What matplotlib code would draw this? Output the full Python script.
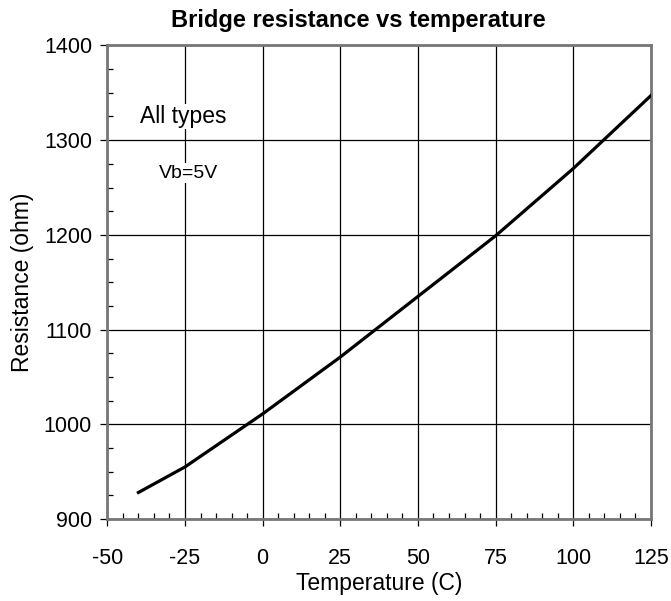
import matplotlib.pyplot as plt
from matplotlib.ticker import MultipleLocator

plt.rcParams['font.family'] = ['Liberation Sans', 'DejaVu Sans']
plt.rcParams['axes.unicode_minus'] = False

# curve
temperature = [-40, -25, 0, 25, 50, 75, 100, 125]
resistance = [928, 955, 1011, 1071, 1135, 1199, 1270, 1347]

x_ticks = [-50, -25, 0, 25, 50, 75, 100, 125]
y_ticks = [900, 1000, 1100, 1200, 1300, 1400]

fig = plt.figure(figsize=(6.71, 6.01), dpi=100)
ax = fig.add_axes([0.160, 0.1364, 0.810, 0.788])

ax.plot(temperature, resistance, color='black', linewidth=2.3, zorder=3)

ax.set_xlim(-50, 125)
ax.set_ylim(900, 1400)
ax.set_xticks(x_ticks)
ax.set_yticks(y_ticks)
ax.xaxis.set_minor_locator(MultipleLocator(5))
ax.yaxis.set_minor_locator(MultipleLocator(25))
ax.grid(True, which='major', color='black', linewidth=0.9)
ax.set_axisbelow(True)

ax.tick_params(which='major', direction='out', length=5, width=0.9, labelsize=15.5)
ax.tick_params(axis='x', which='major', pad=16)
ax.tick_params(axis='y', which='major', pad=6)
ax.tick_params(which='minor', direction='in', length=4, width=0.9)
for s in ax.spines.values():
    s.set_color('#777777')
    s.set_linewidth(2)

ax.text(-25.5, 1325, 'All types', fontsize=16.5, ha='center', va='center',
        bbox=dict(facecolor='white', edgecolor='none', pad=1), zorder=4)
ax.text(-24, 1265, 'Vb=5V', fontsize=14, ha='center', va='center',
        bbox=dict(facecolor='white', edgecolor='none', pad=1), zorder=4)

ax.set_title('Bridge resistance vs temperature', fontsize=17, fontweight='bold',
             pad=13, x=0.461)
ax.set_xlabel('Temperature (C)', fontsize=16.5, labelpad=2)
ax.set_ylabel('Resistance (ohm)', fontsize=16.5, labelpad=7)

fig.savefig('out.png', dpi=100)
